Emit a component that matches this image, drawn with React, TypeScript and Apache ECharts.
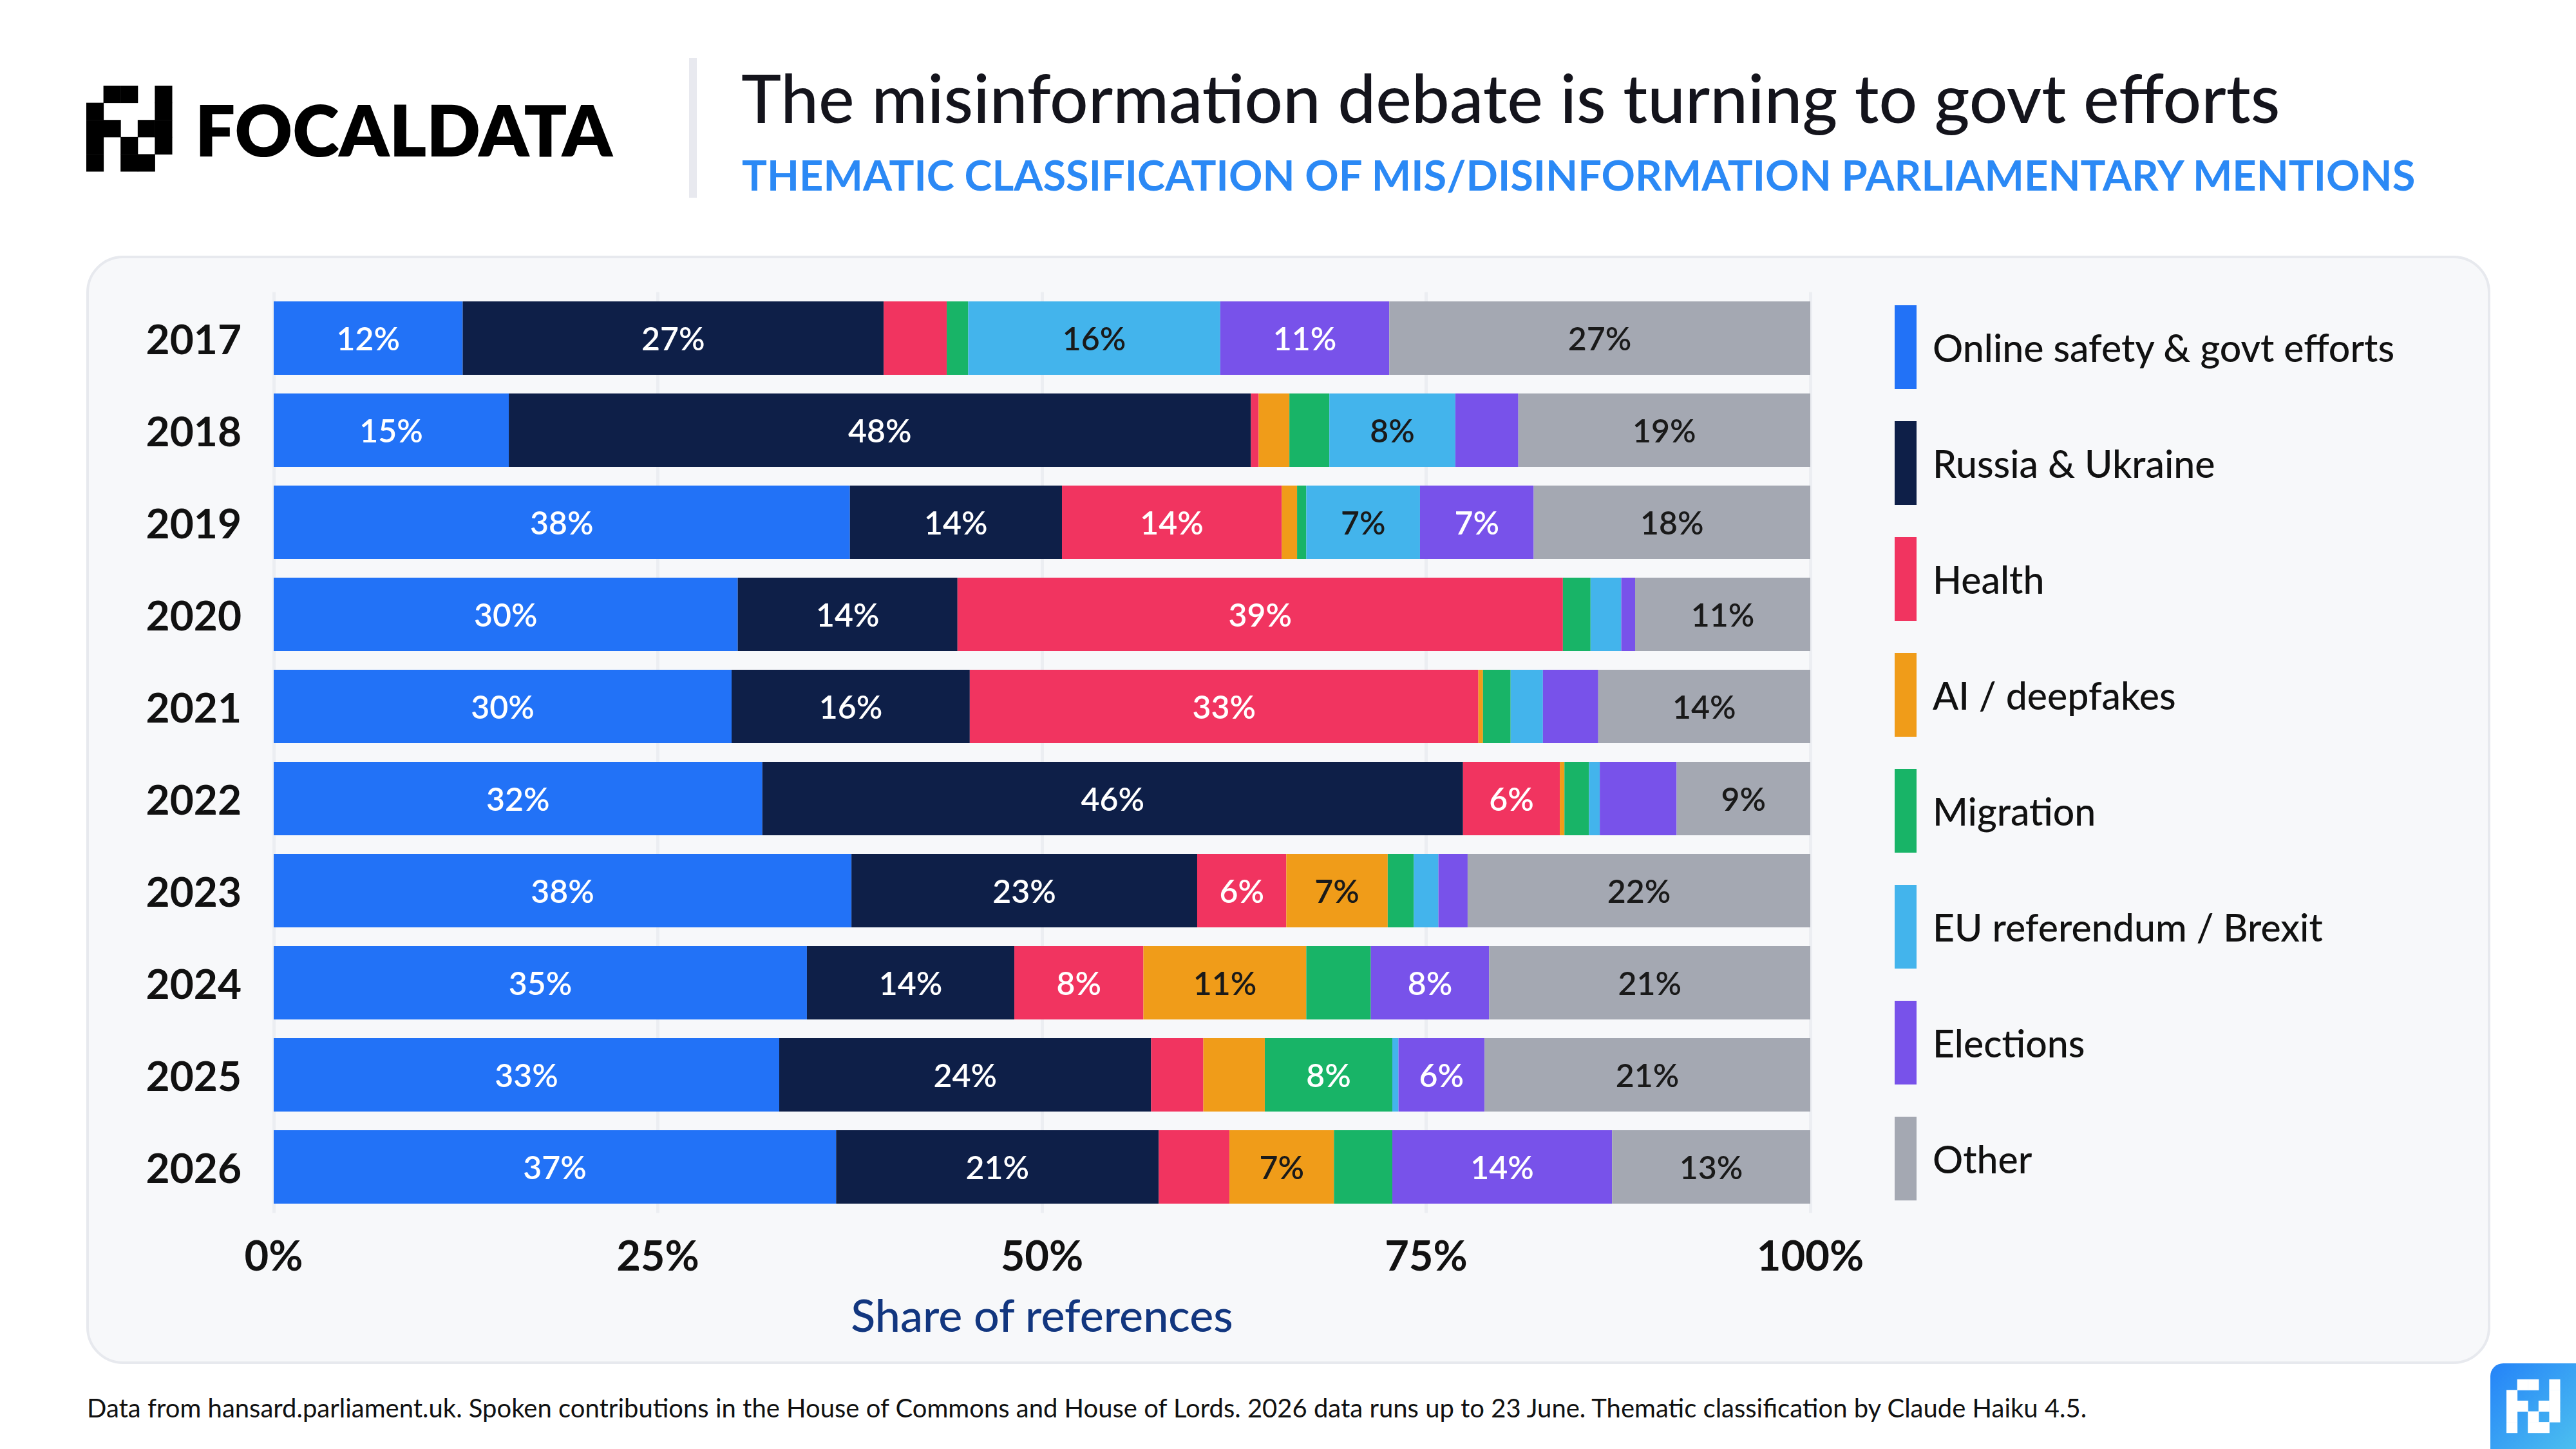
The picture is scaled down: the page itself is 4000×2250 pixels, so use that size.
import React, { useEffect, useRef } from "react";
import * as echarts from "echarts";

const YEARS = ["2017", "2018", "2019", "2020", "2021", "2022", "2023", "2024", "2025", "2026"];
const X_TICKS = [0, 25, 50, 75, 100];

const SERIES_NAMES = [
  "Online safety & govt efforts",
  "Russia & Ukraine",
  "Health",
  "AI / deepfakes",
  "Migration",
  "EU referendum / Brexit",
  "Elections",
  "Other",
];

const ONLINE_SAFETY = [12.3, 15.3, 37.5, 30.2, 29.8, 31.8, 37.6, 34.7, 32.9, 36.6];
const RUSSIA_UKRAINE = [27.4, 48.3, 13.8, 14.3, 15.5, 45.6, 22.5, 13.5, 24.2, 21.0];
const HEALTH = [4.1, 0.5, 14.3, 39.4, 33.1, 6.3, 5.8, 8.4, 3.4, 4.6];
const AI_DEEPFAKES = [0, 2.0, 1.0, 0, 0.3, 0.3, 6.6, 10.6, 4.0, 6.8];
const MIGRATION = [1.4, 2.6, 0.6, 1.8, 1.8, 1.6, 1.7, 4.2, 8.3, 3.8];
const EU_BREXIT = [16.4, 8.2, 7.4, 2.0, 2.1, 0.7, 1.6, 0, 0.4, 0];
const ELECTIONS = [11.0, 4.1, 7.4, 0.9, 3.6, 5.0, 1.9, 7.7, 5.6, 14.3];
const OTHER = [27.4, 19.0, 18.0, 11.4, 13.8, 8.7, 22.3, 20.9, 21.2, 12.9];

const SERIES_VALUES = [ONLINE_SAFETY, RUSSIA_UKRAINE, HEALTH, AI_DEEPFAKES, MIGRATION, EU_BREXIT, ELECTIONS, OTHER];
const COLORS = ["#2272F7", "#0E1F48", "#F13460", "#F09C19", "#18B467", "#43B4EC", "#7852EA", "#A4A8B2"];
const LABEL_COLORS = ["#FFFFFF", "#FFFFFF", "#FFFFFF", "#1A1A1A", "#FFFFFF", "#1A1A1A", "#FFFFFF", "#1A1A1A"];

const TITLE = "The misinformation debate is turning to govt efforts";
const SUBTITLE = "THEMATIC CLASSIFICATION OF MIS/DISINFORMATION PARLIAMENTARY MENTIONS";
const AXIS_NAME = "Share of references";
const FOOTER =
  "Data from hansard.parliament.uk. Spoken contributions in the House of Commons and House of Lords. 2026 data runs up to 23 June. Thematic classification by Claude Haiku 4.5.";

const LOGO_PATTERN = ["01101", "10001", "11011", "10101", "10110"];
const FONT = "Lato, 'Open Sans', sans-serif";

function logoCells(x0: number, y0: number, cell: number, fill: string) {
  const out: any[] = [];
  LOGO_PATTERN.forEach((row, r) => {
    row.split("").forEach((c, k) => {
      if (c === "1") {
        out.push({
          type: "rect",
          shape: { x: x0 + k * cell, y: y0 + r * cell, width: cell + 0.5, height: cell + 0.5 },
          style: { fill },
          z: 5,
        });
      }
    });
  });
  return out;
}

export default function App() {
  const ref = useRef<HTMLDivElement>(null);

  useEffect(() => {
    if (!ref.current) return;
    const chart = echarts.init(ref.current, undefined, { renderer: "svg" });

    const series = SERIES_NAMES.map((name, i) => ({
      name,
      type: "bar",
      stack: "total",
      barWidth: 114,
      data: SERIES_VALUES[i],
      itemStyle: { color: COLORS[i] },
      label: {
        show: true,
        position: "inside",
        color: LABEL_COLORS[i],
        fontFamily: FONT,
        fontSize: 50,
        fontWeight: 600,
        formatter: (p: any) => (p.value >= 5.5 ? Math.round(p.value) + "%" : ""),
      },
      emphasis: { disabled: true },
    }));

    const graphics: any[] = [
      {
        type: "rect",
        z: -10,
        shape: { x: 136, y: 399, width: 3729, height: 1717, r: 55 },
        style: { fill: "#F7F8FA", stroke: "#E7E9EE", lineWidth: 4 },
      },
      ...logoCells(134, 133, 26.6, "#000000"),
      {
        type: "text",
        x: 303,
        y: 200,
        style: {
          text: "FOCALDATA",
          fill: "#000000",
          font: `800 110px ${FONT}`,
          textAlign: "left",
          textVerticalAlign: "middle",
        },
      },
      {
        type: "rect",
        shape: { x: 1070, y: 90, width: 12, height: 217 },
        style: { fill: "#E8E9EF" },
      },
      {
        type: "text",
        x: 1151,
        y: 150,
        style: {
          text: TITLE,
          fill: "#14141C",
          font: `500 105px ${FONT}`,
          textAlign: "left",
          textVerticalAlign: "middle",
        },
      },
      {
        type: "text",
        x: 1152,
        y: 271,
        style: {
          text: SUBTITLE,
          fill: "#2B89F5",
          font: `700 65px ${FONT}`,
          textAlign: "left",
          textVerticalAlign: "middle",
        },
      },
      {
        type: "text",
        x: 135,
        y: 2186,
        style: {
          text: FOOTER,
          fill: "#111111",
          font: `400 40px ${FONT}`,
          textAlign: "left",
          textVerticalAlign: "middle",
        },
      },
      {
        type: "rect",
        shape: { x: 3867, y: 2117, width: 140, height: 140, r: [20, 0, 0, 0] },
        style: {
          fill: new echarts.graphic.LinearGradient(0, 0, 1, 1, [
            { offset: 0, color: "#2483F8" },
            { offset: 1, color: "#4EC2EF" },
          ]),
        },
      },
      ...logoCells(3892, 2141.7, 16.6, "#FFFFFF"),
    ];

    chart.setOption({
      animation: false,
      backgroundColor: "#FFFFFF",
      textStyle: { fontFamily: FONT },
      grid: { left: 425, right: 4000 - 2811, top: 453.5, bottom: 2250 - 1883.5, containLabel: false },
      legend: {
        data: SERIES_NAMES,
        orient: "vertical",
        left: 2937,
        top: 469,
        icon: "rect",
        itemWidth: 34,
        itemHeight: 130,
        itemGap: 50,
        selectedMode: false,
        textStyle: {
          fontFamily: FONT,
          fontSize: 59,
          fontWeight: 500,
          color: "#111111",
          padding: [0, 0, 6, 20],
        },
      },
      xAxis: {
        type: "value",
        min: X_TICKS[0],
        max: X_TICKS[X_TICKS.length - 1],
        interval: 25,
        axisLine: { show: false },
        axisTick: { show: false },
        splitLine: { show: true, lineStyle: { color: "#ECEEF2", width: 5 } },
        axisLabel: {
          formatter: "{value}%",
          fontFamily: FONT,
          fontSize: 65,
          fontWeight: 700,
          color: "#111111",
          margin: 32,
        },
        name: AXIS_NAME,
        nameLocation: "middle",
        nameGap: 122,
        nameTextStyle: { fontFamily: FONT, fontSize: 70, fontWeight: 500, color: "#12367F" },
      },
      yAxis: {
        type: "category",
        data: YEARS,
        inverse: true,
        axisLine: { show: false },
        axisTick: { show: false },
        axisLabel: {
          fontFamily: FONT,
          fontSize: 64,
          fontWeight: 700,
          color: "#111111",
          margin: 50,
        },
      },
      series,
      graphic: { elements: graphics },
    });

    return () => chart.dispose();
  }, []);

  return (
    <div
      ref={ref}
      style={{ position: "fixed", left: 0, top: 0, width: 4000, height: 2250, background: "#fff" }}
    />
  );
}
